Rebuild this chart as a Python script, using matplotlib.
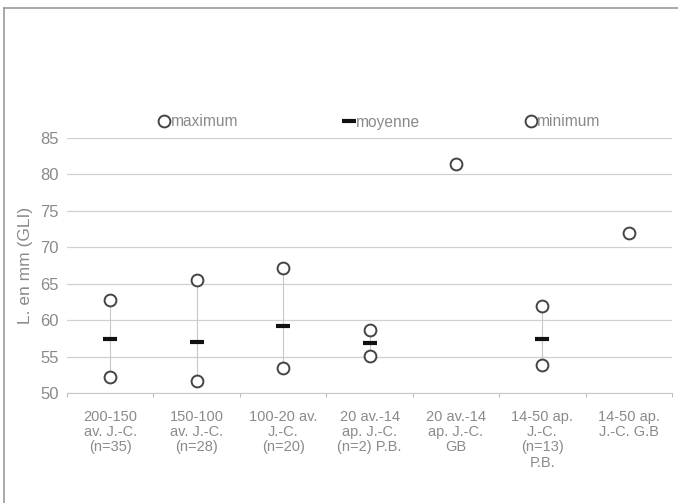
import matplotlib
matplotlib.use("Agg")
import matplotlib.pyplot as plt
from matplotlib.lines import Line2D

categories = ["200-150\nav. J.-C.\n(n=35)",
              "150-100\nav. J.-C.\n(n=28)",
              "100-20 av.\nJ.-C.\n(n=20)",
              "20 av.-14\nap. J.-C.\n(n=2) P.B.",
              "20 av.-14\nap. J.-C.\nGB",
              "14-50 ap.\nJ.-C.\n(n=13)\nP.B.",
              "14-50 ap.\nJ.-C. G.B"]
maximum = [62.8, 65.5, 67.1, 58.6, 81.4, 62.0, 72.0]
moyenne = [57.4, 57.0, 59.2, 56.9, None, 57.4, None]
minimum = [52.2, 51.6, 53.4, 55.1, None, 53.8, None]

grey_txt = "#8a8a8a"
plt.rcParams["font.family"] = ["Liberation Sans", "DejaVu Sans"]

fig = plt.figure(figsize=(6.78, 5.03), dpi=100)
ax = fig.add_axes([67 / 678, 1 - 393 / 503, (672 - 67) / 678, (393 - 138) / 503])

x = list(range(len(categories)))

# high-low lines where both ends exist
for i in x:
    if minimum[i] is not None:
        ax.vlines(i, minimum[i], maximum[i], color="#c8c8c8", lw=0.8, zorder=1)

ax.plot(x, maximum, ls="none", marker="o", ms=8.5, mfc="white", mec="#444444",
        mew=1.4, zorder=3)
xm = [i for i in x if moyenne[i] is not None]
ax.plot(xm, [moyenne[i] for i in xm], ls="none", marker="_", ms=9.5, mec="#111111",
        mew=3, zorder=3)
xn = [i for i in x if minimum[i] is not None]
ax.plot(xn, [minimum[i] for i in xn], ls="none", marker="o", ms=8.5, mfc="white",
        mec="#444444", mew=1.4, zorder=3)

ax.set_xlim(-0.5, len(categories) - 0.5)
ax.set_ylim(50, 85)
ax.set_yticks(range(50, 90, 5))
ax.set_xticks([i - 0.5 for i in range(len(categories) + 1)], minor=False)
ax.set_xticklabels([])
ax.set_xticks(x, minor=True)
ax.set_xticklabels(categories, minor=True, fontsize=10.5, color=grey_txt,
                   linespacing=1.12, va="top")
ax.tick_params(axis="x", which="minor", length=0, pad=12)
ax.tick_params(axis="x", which="major", length=3, color="#bbbbbb", direction="out")
ax.tick_params(axis="y", length=0, labelsize=12, labelcolor=grey_txt, pad=6)
ax.grid(axis="y", color="#d0d0d0", lw=0.9)
ax.set_axisbelow(True)
for s in ["top", "right", "left"]:
    ax.spines[s].set_visible(False)
ax.spines["bottom"].set_color("#c8c8c8")

ax.set_ylabel("L. en mm (GLI)", fontsize=12.5, color=grey_txt, labelpad=5)

handles = [
    Line2D([], [], ls="none", marker="o", ms=8.5, mfc="white", mec="#444444", mew=1.4),
    Line2D([], [], ls="none", marker="_", ms=9.5, mec="#111111", mew=3),
    Line2D([], [], ls="none", marker="o", ms=8.5, mfc="white", mec="#444444", mew=1.4),
]
leg = ax.legend(handles, ["maximum", "moyenne", "minimum"], ncol=3, frameon=False,
                loc="center left", bbox_to_anchor=(78 / 605, 1.0 + 16 / 255),
                handlelength=0.7, handletextpad=0.05, columnspacing=6.8,
                fontsize=11.2)
for t in leg.get_texts():
    t.set_color(grey_txt)

# chart frame
fig.add_artist(Line2D([3.5 / 678, 3.5 / 678], [0, 1 - 8 / 503], color="#9a9a9a", lw=1.2))
fig.add_artist(Line2D([3.5 / 678, 1], [1 - 8 / 503, 1 - 8 / 503], color="#9a9a9a", lw=1.2))

fig.savefig("out.png", dpi=100)
